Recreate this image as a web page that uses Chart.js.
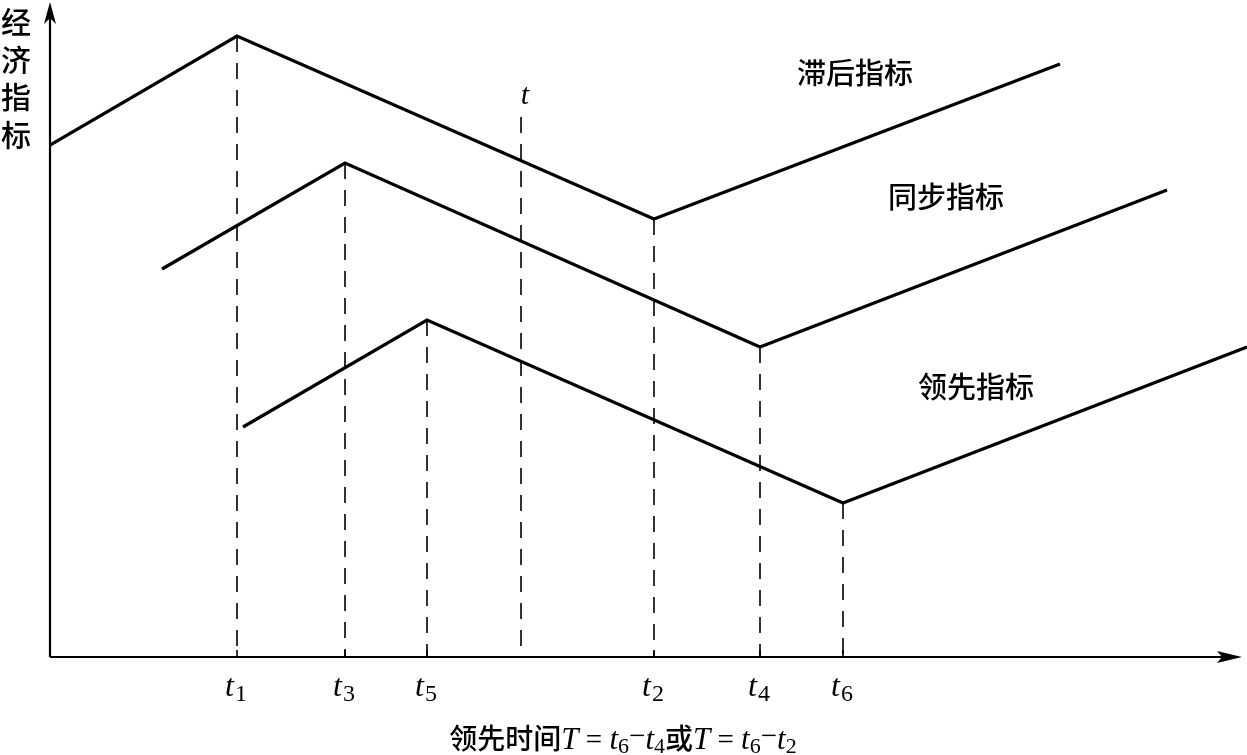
<!DOCTYPE html>
<html><head><meta charset="utf-8">
<script src="https://cdn.jsdelivr.net/npm/chart.js@4/dist/chart.umd.min.js"></script>
<style>html,body{margin:0;padding:0;background:#fff;}#wrap{width:1247px;height:755px;}</style>
</head><body><div id="wrap"><canvas id="c" width="1247" height="755"></canvas></div>
<script>
// Time points (x positions) and series values
const timeNames = ['t1','t3','t5','t','t2','t4','t6'];
const timeValues = [187, 295, 377, 471, 604, 710, 793];
const laggingX = [0, 187, 604, 1010];
const laggingY = [512, 621, 438, 593];
const coincidentX = [112, 295, 710, 1117];
const coincidentY = [388, 494, 310, 467];
const leadingX = [193, 377, 793, 1197];
const leadingY = [230, 337, 154, 310];
// dashed guide tops (y value where each vertical starts)
const guideTops = [621, 494, 337, 540, 438, 310, 154];
const seriesNames = ['滞后指标','同步指标','领先指标'];

const pts = (xs, ys) => xs.map((x,i)=>({x, y: ys[i]}));
const datasets = [
  {label: seriesNames[0], data: pts(laggingX, laggingY)},
  {label: seriesNames[1], data: pts(coincidentX, coincidentY)},
  {label: seriesNames[2], data: pts(leadingX, leadingY)}
].map(d => Object.assign(d, {borderColor:'#000', borderWidth:3.2, pointRadius:0, tension:0, fill:false}));
timeValues.forEach((tv,i)=>{
  datasets.push({label: timeNames[i], data: [{x:tv,y:guideTops[i]},{x:tv,y:0}], borderColor:'#000', borderWidth:1.6, borderDash:[16,11], pointRadius:0, fill:false});
});

const decor = {
  id:'decor',
  afterDraw(chart){
    const ctx = chart.ctx, xs = chart.scales.x, ys = chart.scales.y;
    const ox = xs.getPixelForValue(0), oy = ys.getPixelForValue(0);
    ctx.save();
    ctx.strokeStyle='#000'; ctx.fillStyle='#000'; ctx.lineWidth=2.2;
    // axes
    ctx.beginPath(); ctx.moveTo(ox, oy); ctx.lineTo(1222, oy); ctx.stroke();
    ctx.beginPath(); ctx.moveTo(ox, oy); ctx.lineTo(ox, 14); ctx.stroke();
    // arrows
    ctx.beginPath(); ctx.moveTo(1242, oy); ctx.lineTo(1217, oy-6); ctx.lineTo(1222, oy); ctx.lineTo(1217, oy+6); ctx.closePath(); ctx.fill();
    ctx.beginPath(); ctx.moveTo(ox, 2); ctx.lineTo(ox-6, 24); ctx.lineTo(ox, 18); ctx.lineTo(ox+6, 24); ctx.closePath(); ctx.fill();
    // ticks and labels
    ctx.lineWidth=1.6;
    timeValues.forEach((tv,i)=>{
      const px = xs.getPixelForValue(tv);
      const name = timeNames[i];
      if (name === 't') {
        ctx.font = 'italic 30px "Liberation Serif"'; ctx.textAlign='center'; ctx.textBaseline='alphabetic';
        ctx.fillText('t', px+4, 104);
        return;
      }
      ctx.beginPath(); ctx.moveTo(px, oy); ctx.lineTo(px, oy-7); ctx.stroke();
      ctx.textAlign='left'; ctx.textBaseline='alphabetic';
      ctx.font = 'italic 32px "Liberation Serif"';
      const w = ctx.measureText('t').width;
      ctx.fillText('t', px-12, 696);
      ctx.font = '24px "Liberation Serif"';
      ctx.fillText(name.slice(1), px-12+w+1, 701);
    });
    // series labels
    ctx.font = '500 29px "Noto Sans CJK SC"'; ctx.textAlign='center'; ctx.textBaseline='middle';
    ctx.fillText(seriesNames[0], 855, 73);
    ctx.fillText(seriesNames[1], 946, 197);
    ctx.fillText(seriesNames[2], 976, 387);
    // y axis label
    ctx.font = '500 30px "Noto Sans CJK SC"';
    ['经','济','指','标'].forEach((ch,i)=> ctx.fillText(ch, 16, 22 + i*37.5));
    // caption
    const segs = [
      ['领先时间','500 28px "Noto Sans CJK SC"',0],
      ['T','italic 31px "Liberation Serif"',0],
      [' = ','29px "Liberation Serif"',0],
      ['t','italic 31px "Liberation Serif"',0],
      ['6','22px "Liberation Serif"',4],
      ['−','29px "Liberation Serif"',-4],
      ['t','italic 31px "Liberation Serif"',0],
      ['4','22px "Liberation Serif"',4],
      ['或','500 28px "Noto Sans CJK SC"',0],
      ['T','italic 31px "Liberation Serif"',0],
      [' = ','29px "Liberation Serif"',0],
      ['t','italic 31px "Liberation Serif"',0],
      ['6','22px "Liberation Serif"',4],
      ['−','29px "Liberation Serif"',-4],
      ['t','italic 31px "Liberation Serif"',0],
      ['2','22px "Liberation Serif"',4]
    ];
    ctx.textAlign='left'; ctx.textBaseline='alphabetic';
    let total=0; segs.forEach(s=>{ctx.font=s[1]; total+=ctx.measureText(s[0]).width;});
    let x = 623 - total/2;
    segs.forEach(s=>{ctx.font=s[1]; ctx.fillText(s[0], x, 749+s[2]); x+=ctx.measureText(s[0]).width;});
    ctx.restore();
  }
};

new Chart(document.getElementById('c'), {
  type:'line',
  data:{datasets},
  options:{
    responsive:false, animation:false, devicePixelRatio:1,
    layout:{padding:{left:50, right:0, top:0, bottom:98}},
    plugins:{legend:{display:false}, tooltip:{enabled:false}},
    scales:{
      x:{type:'linear', min:0, max:1197, display:false},
      y:{type:'linear', min:0, max:657, display:false}
    },
    elements:{line:{borderCapStyle:'butt', borderJoinStyle:'miter'}}
  },
  plugins:[decor]
});
</script></body></html>
